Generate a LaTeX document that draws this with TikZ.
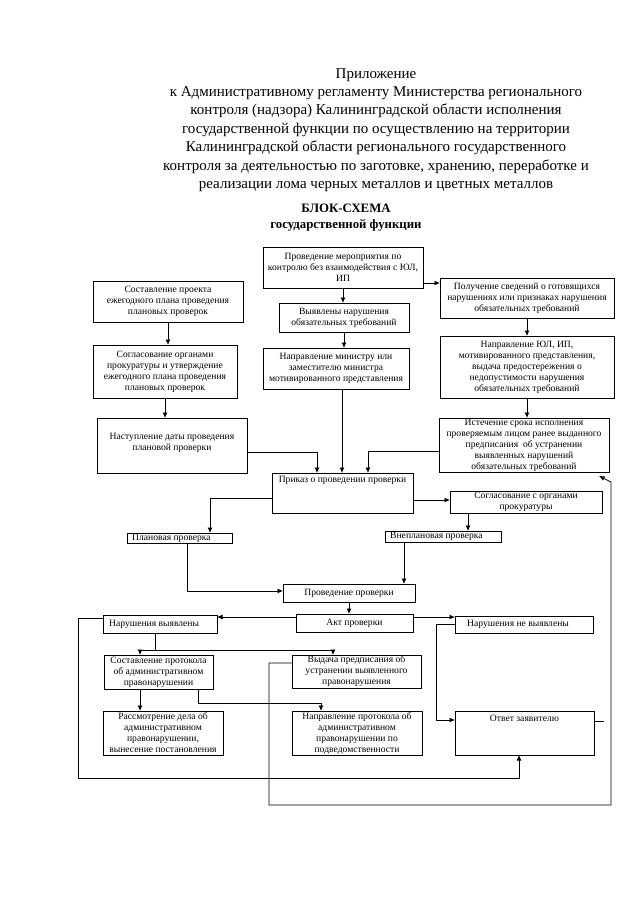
\documentclass[tikz,border=0pt]{standalone}
\usepackage{fontspec}
\setmainfont{Liberation Serif}
\usetikzlibrary{arrows.meta,calc,fit}
\newcommand\bx[6]{\node[box, fit={(#2,#3) (#4,#5)}] (#1) {};\node[btxt] (#1t) at (#1.center) {#6};}
\begin{document}
\begin{tikzpicture}[x=1pt,y=-1pt,
  box/.style={draw, line width=0.8pt, inner sep=0pt, outer sep=0pt},
  btxt/.style={align=center, font=\fontsize{9.6}{11}\selectfont, inner sep=0pt},
  ltxt/.style={anchor=west, font=\fontsize{9.6}{11}\selectfont, inner sep=0pt},
  arr/.style={line width=0.8pt, -{Latex[length=5.5pt,width=5pt]}},
  ln/.style={line width=0.8pt}]
\useasboundingbox (0,0) rectangle (639,897);
\fill[white] (0,0) rectangle (639,897);

\node[anchor=north, align=center, inner sep=0pt, font=\fontsize{15}{18.4}\selectfont] (head) at (376,68)
 {Приложение\\
 к Административному регламенту Министерства регионального\\
 контроля (надзора) Калининградской области исполнения\\
 государственной функции по осуществлению на территории\\
 Калининградской области регионального государственного\\
 контроля за деятельностью по заготовке, хранению, переработке и\\
 реализации лома черных металлов и цветных металлов};
\node[anchor=north, align=center, inner sep=0pt, font=\bfseries\fontsize{12.8}{16}\selectfont] (title) at (346,204)
 {БЛОК-СХЕМА\\государственной функции};

\bx{A}{263}{247}{423}{288}{Проведение мероприятия по\\контролю без взаимодействия с ЮЛ,\\ИП}
\bx{B}{93}{281}{243}{322}{Составление проекта\\ежегодного плана проведения\\плановых проверок}
\bx{C}{279}{303}{409}{332}{Выявлены нарушения\\обязательных требований}
\bx{D}{440}{278}{614}{318}{Получение сведений о готовящихся\\нарушениях или признаках нарушения\\обязательных требований}
\bx{E}{93}{345}{237}{398}{Согласование органами\\прокуратуры и утверждение\\ежегодного плана проведения\\плановых проверок}
\bx{F}{263}{348}{409}{389}{Направление министру или\\заместителю министра\\мотивированного представления}
\bx{G}{440}{336}{614}{398}{Направление ЮЛ, ИП,\\мотивированного представления,\\выдача предостережения о\\недопустимости нарушения\\обязательных требований}
\node[box, fit={(97,418) (247,473)}] (H) {};
\node[btxt] (Ht) at ($(H.center)+(0,-3)$) {Наступление даты проведения\\плановой проверки};
\bx{I}{439}{418}{609}{472}{Истечение срока исполнения\\проверяемым лицом ранее выданного\\предписания\ \ об устранении\\выявленных нарушений\\обязательных требований}

\node[box, fit={(272,473) (413,513)}] (J) {};
\node[btxt, anchor=north] (Jt) at ($(J.north)+(0,3)$) {Приказ о проведении проверки};
\bx{K}{450}{491}{602}{513}{Согласование с органами\\прокуратуры}
\node[box, fit={(127,533) (232,543)}] (L) {};
\node[ltxt] (Lt) at ($(L.west)+(5,0)$) {Плановая проверка};
\node[box, fit={(385,531) (501,542)}] (M) {};
\node[ltxt] (Mt) at ($(M.west)+(5,0)$) {Внеплановая проверка};
\bx{P}{283}{584}{415}{602}{Проведение проверки}
\bx{Q}{296}{614}{413}{632}{Акт проверки}
\node[box, fit={(103,615) (217,633)}] (R) {};
\node[ltxt] (Rt) at ($(R.west)+(6,0)$) {Нарушения выявлены};
\node[box, fit={(455,616) (593,633)}] (S) {};
\node[ltxt] (St) at ($(S.west)+(12,0)$) {Нарушения не выявлены};
\bx{T}{104}{655}{213}{689}{Составление протокола\\об административном\\правонарушении}
\bx{U}{292}{655}{421}{688}{Выдача предписания об\\устранении выявленного\\правонарушения}
\bx{V}{103}{711}{223}{755}{Рассмотрение дела об\\административном\\правонарушении,\\вынесение постановления}
\bx{W}{292}{711}{422}{755}{Направление протокола об\\административном\\правонарушении по\\подведомственности}
\node[box, fit={(455,711) (594,755)}] (X) {};
\node[btxt, anchor=north] (Xt) at ($(X.north)+(0,4)$) {Ответ заявителю};

% coordinates for routing
\coordinate (ad) at ($(A.south east)+(0,-5)$);
\coordinate (hj) at ($(H.south east)+(0,-21)$);
\coordinate (ij) at ($(I.south west)+(0,-21)$);
\coordinate (jx1) at (317,0);
\coordinate (jx2) at (342,0);
\coordinate (jx3) at (368,0);
\coordinate (jk) at ($(J.south east)+(0,-13)$);
\coordinate (jl) at ($(J.south west)+(0,-15)$);
\coordinate (lx) at (210,0);
\coordinate (kx) at (468,0);
\coordinate (mx) at (404,0);
\coordinate (lp) at (187,0);
\coordinate (pl) at ($(P.south west)+(0,-11)$);
\coordinate (qr) at ($(Q.north west)+(0,3)$);
\coordinate (qs) at ($(Q.north east)+(0,3)$);
\coordinate (rj) at (155,650);
\coordinate (rl) at (140,650);
\coordinate (rr) at (333,650);
\coordinate (tw1) at (198,703);
\coordinate (tw2) at (321,703);
\coordinate (uo) at ($(U.north west)+(0,8)$);
\coordinate (c1) at (269,805);
\coordinate (c2) at (611,805);
\coordinate (c3) at (611,482);
\coordinate (ro) at ($(R.north west)+(0,3)$);
\coordinate (d1) at (78,778);
\coordinate (d2) at (519,778);
\coordinate (so) at ($(S.south west)+(0,-9)$);
\coordinate (e1) at (436,720);
\coordinate (xo) at ($(X.north east)+(0,10)$);

% connectors
\draw[arr] (A.south) -- (A.south |- C.north);
\draw[arr] (C.south) -- (C.south |- F.north);
\draw[arr] (jx2 |- F.south) -- (jx2 |- J.north);
\draw[arr] (ad) -- (ad -| D.west);
\draw[arr] (D.south) -- (D.south |- G.north);
\draw[arr] (G.south) -- (G.south |- I.north);
\draw[arr] (B.south) -- (B.south |- E.north);
\draw[arr] (E.south) -- (E.south |- H.north);
\draw[arr] (hj) -| (jx1 |- J.north);
\draw[arr] (ij) -| (jx3 |- J.north);
\draw[arr] (jk) -- (jk -| K.west);
\draw[arr] (jl) -| (lx |- L.north);
\draw[arr] (kx |- K.south) -- (kx |- M.north);
\draw[arr] (mx |- M.south) -- (mx |- P.north);
\draw[arr] (lp |- L.south) |- (pl);
\draw[arr] (P.south) -- (P.south |- Q.north);
\draw[arr] (qr) -- (qr -| R.east);
\draw[arr] (qs) -- (qs -| S.west);
\draw[ln] (rj |- R.south) -- (rj);
\draw[arr] (rj) -| (rl |- T.north);
\draw[arr] (rj) -| (rr |- U.north);
\draw[arr] (rl |- T.south) -- (rl |- V.north);
\draw[arr] (tw1 |- T.south) -- (tw1) -- (tw2) -- (tw2 |- W.north);
\draw[arr] (uo) -| (c1) -- (c2) -- (c3) -- ($(I.south east)+(-10,4)$);
\draw[arr] (ro) -| (d1) -- (d2) -- (d2 |- X.south);
\draw[arr] (so) -| (e1) -- (e1 -| X.west);
\draw[ln] (xo) -- ++(10,0);
\end{tikzpicture}
\end{document}
